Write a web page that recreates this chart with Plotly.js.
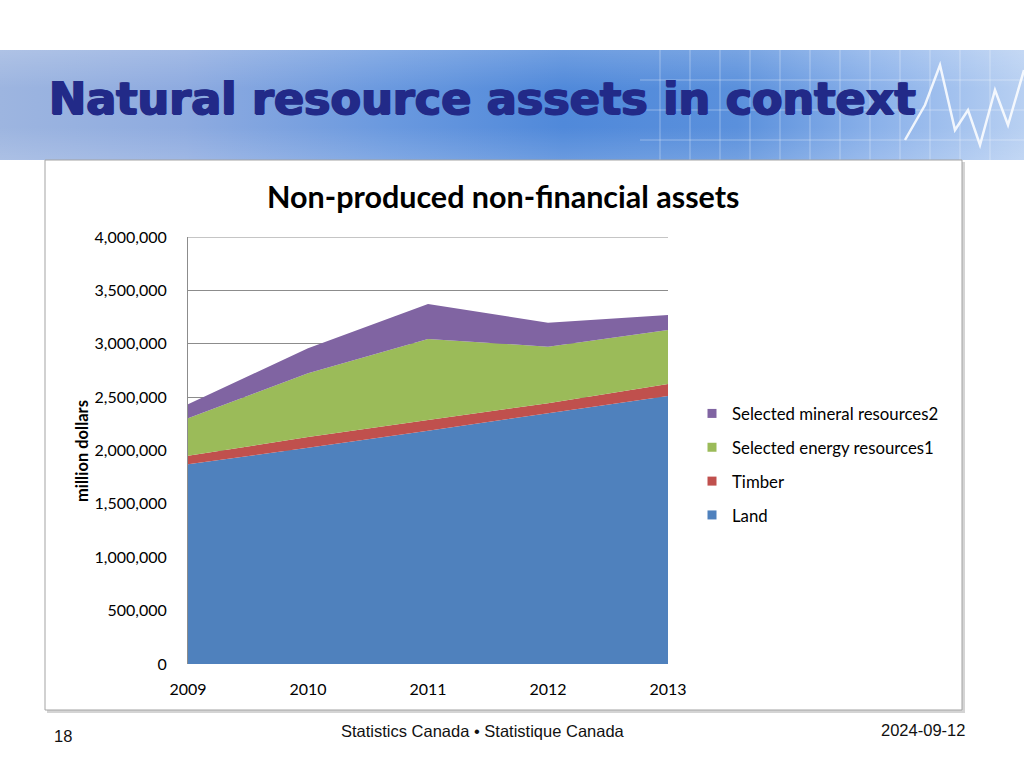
<!DOCTYPE html>
<html>
<head>
<meta charset="utf-8">
<script src="https://cdn.plot.ly/plotly-3.0.1.min.js"></script>
<style>
  body { margin: 0; background: #ffffff; }
  #slide { position: relative; width: 1024px; height: 768px; overflow: hidden; }
  /* header banner behind the plot */
  #banner {
    position: absolute; left: 0; top: 50px; width: 1024px; height: 110px;
    background:
      linear-gradient(180deg, rgba(255,255,255,0.18) 0%, rgba(255,255,255,0) 35%, rgba(255,255,255,0) 70%, rgba(255,255,255,0.15) 100%),
      linear-gradient(90deg, #9db5e0 0%, #8eabe0 18%, #6a99df 38%, #5089da 55%, #5a90dc 72%, #8cb2ea 86%, #b8d0f2 100%);
  }
  #chart { position: absolute; left: 0; top: 0; width: 1024px; height: 768px; }
</style>
</head>
<body>
<div id="slide">
  <div id="banner">
    <svg width="1024" height="110" style="position:absolute;left:0;top:0">
      <g stroke="rgba(255,255,255,0.35)" stroke-width="1">
        <line x1="660" y1="0" x2="660" y2="110"/><line x1="690" y1="0" x2="690" y2="110"/>
        <line x1="720" y1="0" x2="720" y2="110"/><line x1="750" y1="0" x2="750" y2="110"/>
        <line x1="780" y1="0" x2="780" y2="110"/><line x1="810" y1="0" x2="810" y2="110"/>
        <line x1="840" y1="0" x2="840" y2="110"/><line x1="870" y1="0" x2="870" y2="110"/>
        <line x1="900" y1="0" x2="900" y2="110"/><line x1="930" y1="0" x2="930" y2="110"/>
        <line x1="960" y1="0" x2="960" y2="110"/><line x1="990" y1="0" x2="990" y2="110"/>
        <line x1="640" y1="30" x2="1024" y2="30"/><line x1="640" y1="60" x2="1024" y2="60"/>
        <line x1="640" y1="90" x2="1024" y2="90"/>
      </g>
      <polyline points="905,90 925,55 940,15 955,80 968,60 980,95 995,40 1008,75 1024,20"
                fill="none" stroke="rgba(255,255,255,0.85)" stroke-width="2.5"/>
    </svg>
  </div>
  <div id="chart"></div>
</div>
<script>
// years on the x axis
const years = [2009, 2010, 2011, 2012, 2013];

// million dollars
const land = [1871000, 2026000, 2186000, 2348000, 2510000];
const timber = [80000, 100000, 100000, 94000, 112000];
const energy = [351000, 597000, 758000, 531000, 507000];
const mineral = [131000, 235000, 328000, 224000, 140000];

const seriesNames = ["Land", "Timber", "Selected energy resources1", "Selected mineral resources2"];
const seriesColors = ["#4f81bd", "#c0504d", "#9bbb59", "#8064a2"];
const seriesValues = [land, timber, energy, mineral];

const yMax = 4000000;

// plot area in pixels, used to place things in paper coords
const plotLeft = 188, plotRight = 668, plotTop = 237, plotBottom = 664;
const px = (x) => (x - plotLeft) / (plotRight - plotLeft);
const py = (y) => (plotBottom - y) / (plotBottom - plotTop);

let traces = [];

// stacked areas (Land at the bottom)
for (let i = 0; i < seriesValues.length; i++) {
    traces.push({
        x: years,
        y: seriesValues[i],
        type: 'scatter',
        mode: 'none',
        stackgroup: 'assets',
        fillcolor: seriesColors[i],
        name: seriesNames[i],
        showlegend: false,
        hoverinfo: 'x+y+name'
    });
}

// legend entries with square swatches, top to bottom
for (let i = seriesValues.length - 1; i >= 0; i--) {
    traces.push({
        x: [null],
        y: [null],
        type: 'scatter',
        mode: 'markers',
        marker: { symbol: 'square', size: 9, color: seriesColors[i] },
        name: seriesNames[i],
        legendgroup: 'g' + i,
        showlegend: true
    });
}

const labelFont = { family: 'Lato, "Open Sans", sans-serif', size: 16, color: '#000000' };
const footFont = { family: '"Liberation Sans Narrow", "Liberation Sans", Arial, sans-serif', size: 16.5, color: '#111111' };

let layout = {
    width: 1024,
    height: 768,
    paper_bgcolor: 'rgba(0,0,0,0)',
    plot_bgcolor: 'rgba(0,0,0,0)',
    margin: { l: plotLeft, r: 1024 - plotRight, t: plotTop, b: 768 - plotBottom, pad: 0 },
    font: labelFont,
    xaxis: {
        range: [2009, 2013],
        tickvals: years,
        ticktext: years.map(String),
        ticks: '',
        ticklabelstandoff: 14,
        showgrid: false,
        zeroline: false,
        showline: false,
        tickfont: labelFont,
        fixedrange: true
    },
    yaxis: {
        range: [0, yMax],
        dtick: 500000,
        tickformat: ',d',
        ticks: '',
        ticklabelstandoff: 17,
        showgrid: true,
        gridcolor: '#8c8c8c',
        gridwidth: 1,
        zeroline: false,
        showline: true,
        linecolor: '#8c8c8c',
        tickfont: labelFont,
        fixedrange: true
    },
    showlegend: true,
    legend: {
        x: px(692),
        y: py(396),
        xanchor: 'left',
        yanchor: 'top',
        traceorder: 'grouped',
        tracegroupgap: 9,
        bgcolor: 'rgba(0,0,0,0)',
        font: { family: 'Lato, "Open Sans", sans-serif', size: 16.8, color: '#000000' }
    },
    shapes: [
        // soft shadow and frame of the chart box
        { type: 'rect', xref: 'paper', yref: 'paper', layer: 'below',
          x0: px(47), x1: px(965), y0: py(713), y1: py(162),
          line: { width: 0 }, fillcolor: '#d4d4d4' },
        { type: 'rect', xref: 'paper', yref: 'paper', layer: 'below',
          x0: px(45), x1: px(962), y0: py(710), y1: py(160),
          line: { color: '#a3a3a3', width: 1 }, fillcolor: '#ffffff' },
        // top gridline (plotly skips the one on the plot edge)
        { type: 'line', xref: 'paper', yref: 'y', layer: 'below',
          x0: 0, x1: 1, y0: yMax, y1: yMax,
          line: { color: '#8c8c8c', width: 1 } }
    ],
    annotations: [
        {
            text: 'Natural resource assets in context',
            xref: 'paper', yref: 'paper', x: px(482), y: py(98),
            showarrow: false, xanchor: 'center', yanchor: 'middle',
            font: { family: '"DejaVu Sans", "Liberation Sans", sans-serif', size: 44.5, weight: 'bold', color: '#222a88',
                    shadow: '1px 0 0 #222a88, -1px 0 0 #222a88, 0 1px 0 #222a88' }
        },
        {
            text: '<b>Non-produced non-financial assets</b>',
            xref: 'paper', yref: 'paper', x: px(503), y: py(196),
            showarrow: false, xanchor: 'center', yanchor: 'middle',
            font: { family: 'Lato, "Open Sans", sans-serif', size: 30.5, color: '#000000' }
        },
        {
            text: '<b>million dollars</b>',
            xref: 'paper', yref: 'paper', x: px(82), y: py(451),
            textangle: -90,
            showarrow: false, xanchor: 'center', yanchor: 'middle',
            font: { family: 'Lato, "Open Sans", sans-serif', size: 16.5, color: '#000000' }
        },
        {
            text: '18',
            xref: 'paper', yref: 'paper', x: px(63), y: py(736),
            showarrow: false, xanchor: 'center', yanchor: 'middle', font: footFont
        },
        {
            text: 'Statistics Canada • Statistique Canada',
            xref: 'paper', yref: 'paper', x: px(483), y: py(731),
            showarrow: false, xanchor: 'center', yanchor: 'middle', font: footFont
        },
        {
            text: '2024-09-12',
            xref: 'paper', yref: 'paper', x: px(967), y: py(730),
            showarrow: false, xanchor: 'right', yanchor: 'middle', font: footFont
        }
    ]
};

Plotly.newPlot('chart', traces, layout, {
    displayModeBar: false,
    responsive: false,
    staticPlot: true
});
</script>
</body>
</html>
